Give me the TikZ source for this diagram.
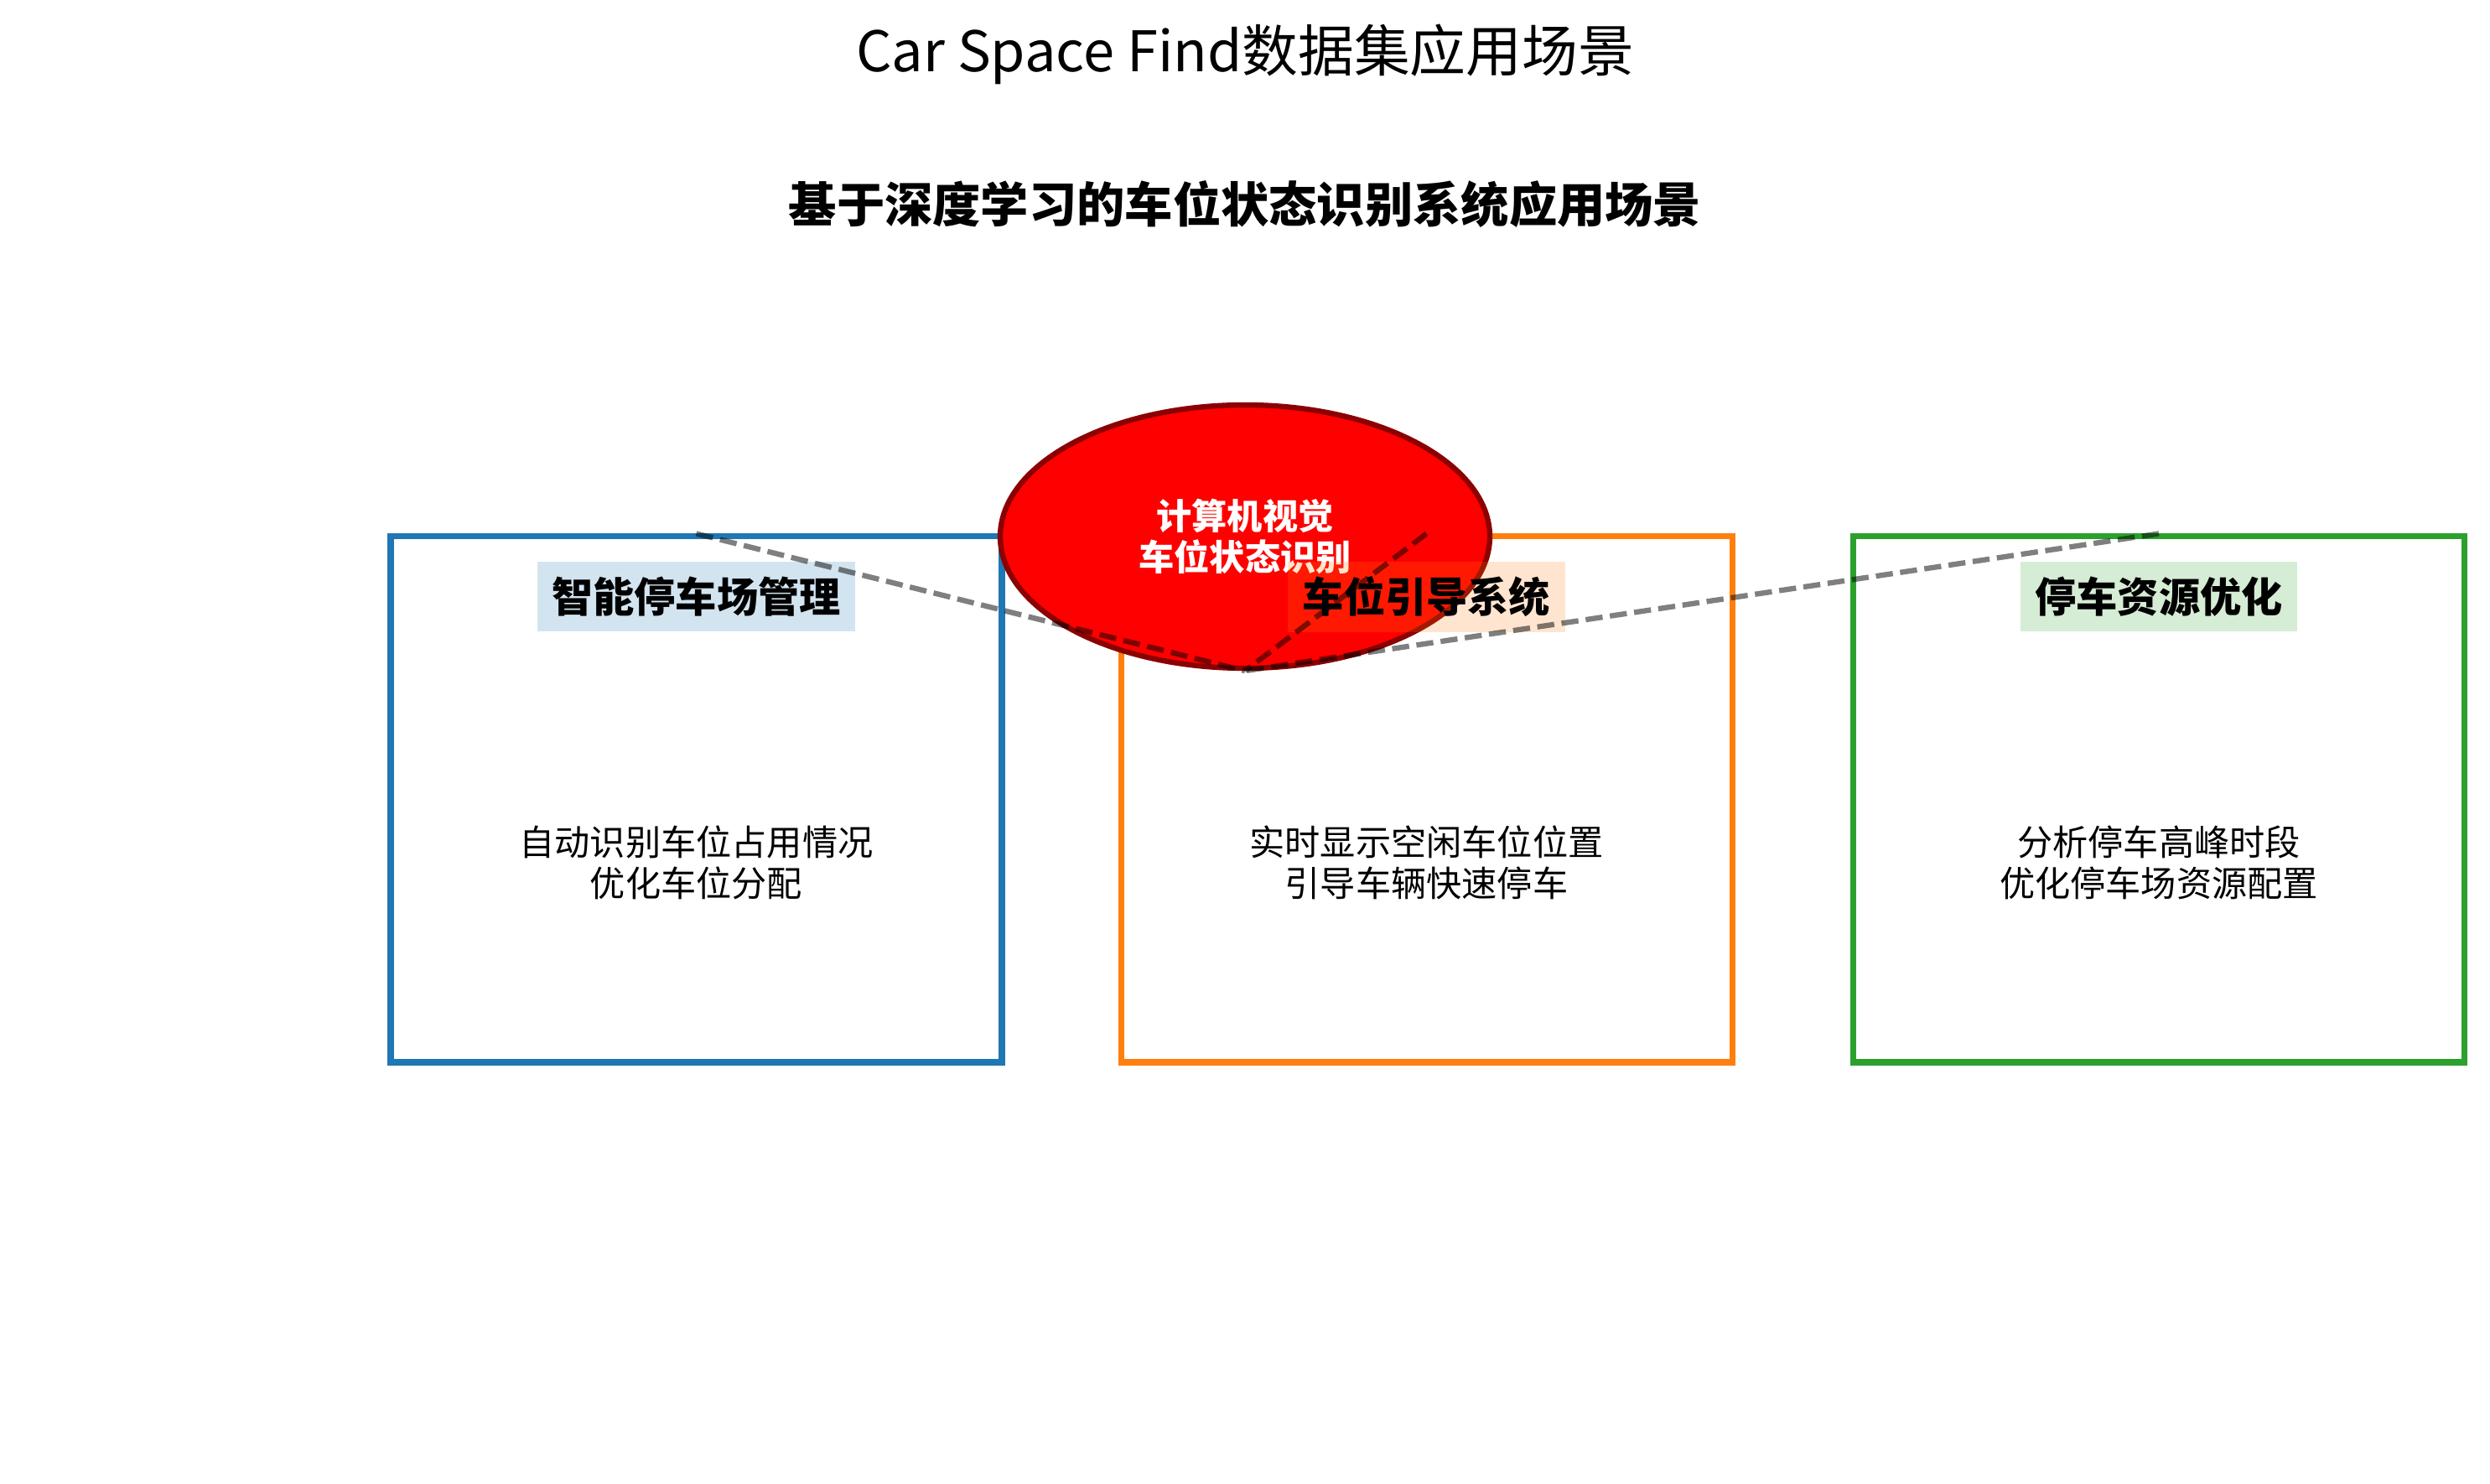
\documentclass[tikz,border=0pt]{standalone}
\usepackage{fontspec}
\setmainfont{Noto Sans CJK SC}
\usetikzlibrary{positioning, shapes.geometric}

\definecolor{parkBlue}{HTML}{1F77B4}
\definecolor{guideOrange}{HTML}{FF7F0E}
\definecolor{resGreen}{HTML}{2CA02C}
\definecolor{cvRed}{HTML}{FF0000}
\definecolor{cvDark}{HTML}{8B0000}

\tikzset{
  scenebox/.style={draw, line width=2pt, minimum width=7.29cm, minimum height=6.27cm, inner sep=0pt},
  scenehead/.style={fill opacity=0.2, text opacity=1, inner sep=5pt, font=\fontsize{14}{17}\selectfont\bfseries},
  scenetext/.style={align=center, font=\fontsize{12}{14}\selectfont},
  link/.style={black, opacity=0.5, line width=1.8pt, dash pattern=on 5.8pt off 2.5pt},
}

\begin{document}
\begin{tikzpicture}
                \useasboundingbox (0,0) rectangle (29.7,17.7);
                \node[font=\fontsize{19}{23}\selectfont] (title) at (14.85,17.05) {Car Space Find数据集应用场景};
                \node[font=\fontsize{16.3}{19}\selectfont\bfseries] (subtitle) at (14.85,15.26) {基于深度学习的车位状态识别系统应用场景};
                \node[scenebox, draw=parkBlue] (parking) at (8.305,8.165) {};
                \node[scenebox, draw=guideOrange] (guide) at (17.015,8.165) {};
                \node[scenebox, draw=resGreen] (resource) at (25.75,8.165) {};
                \node[ellipse, draw=cvDark, fill=cvRed, line width=1.8pt, minimum width=5.84cm, minimum height=3.14cm, inner sep=0pt,
                      align=center, text=white, font=\fontsize{12}{14}\selectfont\bfseries] (cv) at (14.85,11.30) {计算机视觉\\车位状态识别};
                \node[scenehead, fill=parkBlue, below = 3.3mm of parking.north] (parkingHead) {智能停车场管理};
                \node[scenehead, fill=guideOrange, below = 3.3mm of guide.north] (guideHead) {车位引导系统};
                \node[scenehead, fill=resGreen, below = 3.3mm of resource.north] (resourceHead) {停车资源优化};
                \node[scenetext] (parkingText) at ([yshift=-7.55mm]parking.center) {自动识别车位占用情况\\优化车位分配};
                \node[scenetext] (guideText) at ([yshift=-7.55mm]guide.center) {实时显示空闲车位位置\\引导车辆快速停车};
                \node[scenetext] (resourceText) at ([yshift=-7.55mm]resource.center) {分析停车高峰时段\\优化停车场资源配置};
                \draw[link] (parking.north) -- (cv.south);
                \draw[link] (guide.north) -- (cv.south);
                \draw[link] (resource.north) -- (cv.south);
            \end{tikzpicture}
\end{document}
